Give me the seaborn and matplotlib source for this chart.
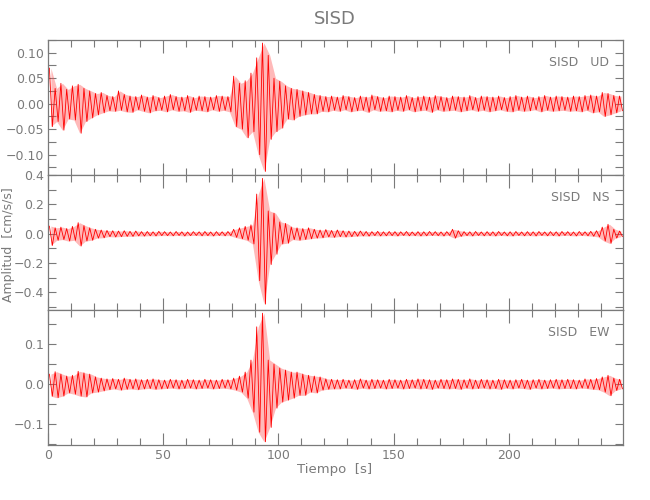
#Import packages
import numpy as np
import pandas as pd
import seaborn as sns
import matplotlib
matplotlib.use("Agg")
import matplotlib.pyplot as plt
from matplotlib.ticker import MultipleLocator, FuncFormatter

#Peak amplitudes [cm/s/s] read per 2.5 s window (upper / lower excursion)
ud_up = [.070, .030, .040, .028, .035, .038, .030, .025, .020, .022,
         .016, .014, .025, .018, .015, .014, .017, .013, .016, .012,
         .015, .018, .014, .013, .016, .012, .015, .014, .013, .016,
         .015, .014, .054, .040, .045, .060, .090, .119, .095, .050,
         .044, .035, .030, .028, .025, .022, .018, .016, .014, .015,
         .013, .016, .014, .012, .015, .013, .017, .014, .012, .015,
         .014, .013, .016, .012, .014, .015, .013, .016, .014, .012,
         .015, .014, .013, .016, .012, .015, .014, .013, .015, .012,
         .014, .016, .013, .015, .012, .014, .016, .013, .015, .014,
         .013, .015, .014, .016, .017, .015, .022, .020, .016, .015]
ud_lo = [-.045, -.035, -.052, -.030, -.032, -.058, -.035, -.028, -.022, -.018,
         -.014, -.015, -.013, -.016, -.017, -.012, -.015, -.018, -.014, -.013,
         -.016, -.012, -.015, -.014, -.017, -.013, -.014, -.016, -.012, -.015,
         -.013, -.016, -.045, -.050, -.067, -.055, -.100, -.133, -.070, -.055,
         -.048, -.030, -.032, -.025, -.022, -.020, -.020, -.015, -.016, -.013,
         -.015, -.012, -.016, -.014, -.013, -.017, -.012, -.015, -.014, -.016,
         -.013, -.015, -.012, -.016, -.014, -.013, -.017, -.012, -.015, -.014,
         -.013, -.016, -.014, -.012, -.015, -.013, -.016, -.014, -.012, -.015,
         -.016, -.013, -.015, -.014, -.012, -.016, -.013, -.015, -.014, -.013,
         -.015, -.014, -.016, -.013, -.018, -.016, -.025, -.022, -.018, -.014]

ns_up = [.052, .040, .045, .035, .050, .075, .055, .040, .030, .025,
         .022, .020, .018, .020, .016, .018, .014, .015, .013, .016,
         .014, .012, .015, .013, .012, .014, .013, .015, .012, .014,
         .013, .015, .030, .040, .050, .060, .270, .377, .155, .140,
         .080, .070, .045, .040, .035, .040, .030, .025, .028, .022,
         .025, .020, .018, .016, .018, .015, .014, .016, .013, .015,
         .014, .013, .015, .012, .014, .013, .015, .014, .012, .014,
         .030, .020, .014, .013, .015, .012, .014, .013, .015, .012,
         .013, .015, .012, .014, .013, .015, .012, .014, .013, .015,
         .014, .012, .015, .013, .016, .020, .045, .064, .030, .018]
ns_lo = [-.080, -.045, -.040, -.050, -.045, -.084, -.050, -.045, -.030, -.028,
         -.020, -.022, -.020, -.018, -.018, -.015, -.016, -.014, -.015, -.013,
         -.013, -.014, -.012, -.015, -.013, -.012, -.014, -.013, -.015, -.012,
         -.014, -.013, -.025, -.035, -.045, -.070, -.320, -.480, -.210, -.140,
         -.070, -.065, -.040, -.045, -.040, -.035, -.030, -.028, -.022, -.025,
         -.020, -.022, -.020, -.017, -.015, -.016, -.013, -.015, -.014, -.013,
         -.015, -.012, -.014, -.013, -.015, -.014, -.012, -.013, -.015, -.012,
         -.030, -.018, -.013, -.015, -.012, -.014, -.013, -.015, -.012, -.014,
         -.015, -.012, -.014, -.013, -.015, -.012, -.014, -.013, -.015, -.012,
         -.013, -.015, -.012, -.014, -.017, -.022, -.050, -.066, -.030, -.020]

ew_up = [.025, .031, .025, .020, .022, .032, .028, .025, .018, .015,
         .013, .014, .012, .015, .012, .013, .011, .012, .013, .011,
         .010, .012, .011, .010, .012, .011, .010, .012, .011, .010,
         .012, .011, .015, .020, .030, .060, .143, .177, .060, .050,
         .040, .035, .030, .030, .025, .022, .020, .018, .013, .012,
         .011, .012, .010, .011, .013, .010, .012, .011, .010, .012,
         .011, .010, .012, .011, .013, .012, .011, .010, .012, .011,
         .013, .012, .011, .013, .010, .012, .011, .010, .012, .011,
         .010, .011, .012, .010, .011, .012, .010, .011, .012, .011,
         .012, .011, .010, .013, .012, .014, .018, .022, .015, .012]
ew_lo = [-.030, -.034, -.030, -.022, -.025, -.030, -.032, -.022, -.020, -.017,
         -.014, -.012, -.015, -.013, -.012, -.014, -.012, -.011, -.013, -.012,
         -.011, -.010, -.012, -.011, -.010, -.012, -.011, -.010, -.012, -.011,
         -.010, -.012, -.015, -.020, -.035, -.070, -.120, -.144, -.108, -.060,
         -.045, -.040, -.035, -.028, -.028, -.020, -.022, -.015, -.013, -.012,
         -.012, -.010, -.011, -.013, -.010, -.012, -.011, -.010, -.012, -.011,
         -.010, -.012, -.011, -.010, -.012, -.011, -.013, -.010, -.011, -.012,
         -.011, -.013, -.010, -.012, -.011, -.010, -.012, -.011, -.013, -.010,
         -.012, -.010, -.011, -.013, -.010, -.012, -.011, -.010, -.012, -.011,
         -.011, -.012, -.010, -.011, -.013, -.014, -.020, -.029, -.016, -.012]

station = "SISD"
components = ["UD", "NS", "EW"]
window = 2.5 #seconds per window

#Panel settings: y limits, labelled tick step, tick step, label format
panels = [
    (ud_up, ud_lo, (-0.14, 0.125), 0.05, 0.025, "{:.2f}"),
    (ns_up, ns_lo, (-0.52, 0.40), 0.2, 0.1, "{:.1f}"),
    (ew_up, ew_lo, (-0.152, 0.185), 0.1, 0.05, "{:.1f}"),
]

sns.set_style("ticks")
plt.rcParams['font.family'] = ['DejaVu Sans']
gray = "#7a7a7a"
fs = 9

fig = plt.figure(figsize=(6.5, 5), dpi=100)
left, width = 48 / 650, 575 / 650
tops = [40, 175, 310]
height = 135 / 500

for k, (up, lo, ylim, lab_step, tick_step, fmt) in enumerate(panels):
    ax = fig.add_axes([left, 1 - (tops[k] + 135) / 500, width, height])
    #Envelope band and interleaved upper/lower excursions as the trace
    t0 = np.arange(len(up)) * window
    ax.fill_between(t0 + 1.25, lo, up, color="#ff5050", alpha=0.4, lw=0)
    t = np.column_stack([t0 + 0.6, t0 + 1.9]).ravel()
    a = np.column_stack([up, lo]).ravel()
    df = pd.DataFrame({"t": t, "a": a})
    sns.lineplot(data=df, x="t", y="a", ax=ax, color="red", lw=0.6,
                 estimator=None, sort=False)
    ax.set_xlim(0, 249.6)
    ax.set_ylim(*ylim)
    ax.set_xlabel("")
    ax.set_ylabel("")
    ax.xaxis.set_major_locator(MultipleLocator(50))
    ax.xaxis.set_minor_locator(MultipleLocator(10))
    ax.yaxis.set_major_locator(MultipleLocator(tick_step))
    ax.yaxis.set_major_formatter(FuncFormatter(
        lambda v, p, s=lab_step, f=fmt:
        f.format(v).replace("-", "\u2212") if abs(v / s - round(v / s)) < 1e-6 else ""))
    ax.tick_params(axis="both", which="both", direction="in", top=True, right=True,
                   color=gray, labelcolor=gray, labelsize=fs, width=0.8, pad=3)
    ax.tick_params(axis="x", which="major", length=9)
    ax.tick_params(axis="x", which="minor", length=5)
    ax.tick_params(axis="y", which="major", length=6)
    if k < 2:
        ax.tick_params(axis="x", labelbottom=False)
    for s in ax.spines.values():
        s.set_color(gray)
        s.set_linewidth(0.9)
    ax.text(0.976, 0.83, station + "   " + components[k], transform=ax.transAxes,
            ha="right", va="center", color=gray, fontsize=fs)

fig.text(0.515, 0.963, station, ha="center", va="center", color=gray, fontsize=13)
fig.text(0.515, 0.06, "Tiempo  [s]", ha="center", va="center", color=gray, fontsize=fs + 0.5)
fig.text(0.013, 0.51, "Amplitud  [cm/s/s]", ha="center", va="center",
         rotation=90, color=gray, fontsize=fs)

plt.savefig("out.png", dpi=100)
